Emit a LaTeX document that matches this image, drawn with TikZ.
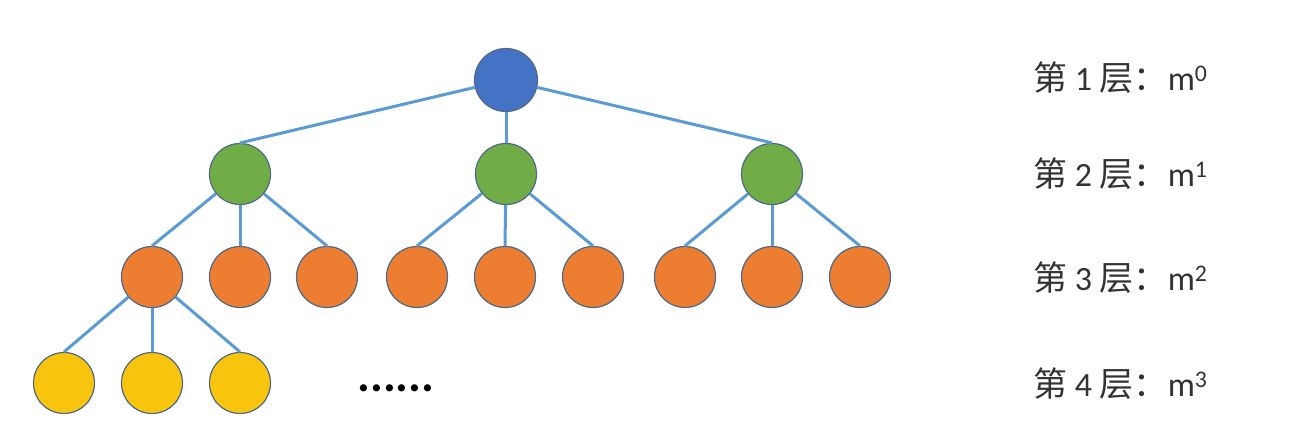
\documentclass[tikz,border=0pt]{standalone}
\usepackage{fontspec}
\setmainfont{Carlito}
\newfontfamily\cjk{Noto Sans CJK SC}
\definecolor{rootblue}{HTML}{4472C4}
\definecolor{lvgreen}{HTML}{70AD47}
\definecolor{lvorange}{HTML}{ED7D31}
\definecolor{lvyellow}{HTML}{F8C40C}
\definecolor{edgeblue}{HTML}{5B9BD5}
\definecolor{rimgray}{HTML}{4E6A86}
\begin{document}
\begin{tikzpicture}[
    x=1pt, y=-1pt,
    ball/.style={circle, draw=rimgray, line width=1.2pt, minimum size=61pt, inner sep=0pt},
    edge/.style={draw=edgeblue, line width=3pt},
    level/.style={anchor=west, inner sep=0pt, font=\fontsize{34}{40}\selectfont, text=black!80}
  ]
  \useasboundingbox (0,0) rectangle (1312,437);
  % level 1
  \node[ball, fill=rootblue, minimum size=63pt] (r) at (506,80) {};
  % level 2
  \node[ball, fill=lvgreen] (g1) at (240,174) {};
  \node[ball, fill=lvgreen] (g2) at (506,174) {};
  \node[ball, fill=lvgreen] (g3) at (772,174) {};
  % level 3
  \node[ball, fill=lvorange] (o1) at (152,277) {};
  \node[ball, fill=lvorange] (o2) at (240,277) {};
  \node[ball, fill=lvorange] (o3) at (327,277) {};
  \node[ball, fill=lvorange] (o4) at (417,277) {};
  \node[ball, fill=lvorange] (o5) at (505,277) {};
  \node[ball, fill=lvorange] (o6) at (593,277) {};
  \node[ball, fill=lvorange] (o7) at (685,277) {};
  \node[ball, fill=lvorange] (o8) at (772,277) {};
  \node[ball, fill=lvorange] (o9) at (860,277) {};
  % level 4
  \node[ball, fill=lvyellow] (y1) at (64,383) {};
  \node[ball, fill=lvyellow] (y2) at (152,383) {};
  \node[ball, fill=lvyellow] (y3) at (240,383) {};
  \node[inner sep=0pt, font=\bfseries\fontsize{48}{50}\selectfont] (dots) at (396,388) {......};
  % edges
  \draw[edge] (r) -- (g1.north);
  \draw[edge] (r) -- (g2.north);
  \draw[edge] (r) -- (g3.north);
  \draw[edge] (g1) -- (o1.north);
  \draw[edge] (g1) -- (o2.north);
  \draw[edge] (g1) -- (o3.north);
  \draw[edge] (g2) -- (o4.north);
  \draw[edge] (g2) -- (o5.north);
  \draw[edge] (g2) -- (o6.north);
  \draw[edge] (g3) -- (o7.north);
  \draw[edge] (g3) -- (o8.north);
  \draw[edge] (g3) -- (o9.north);
  \draw[edge] (o1) -- (y1.north);
  \draw[edge] (o1) -- (y2.north);
  \draw[edge] (o1) -- (y3.north);
  % labels
  \node[level] (l1) at (1033,78) {{\cjk 第} 1 {\cjk 层：}m\textsuperscript{0}};
  \node[level] (l2) at (1033,174) {{\cjk 第} 2 {\cjk 层：}m\textsuperscript{1}};
  \node[level] (l3) at (1033,278) {{\cjk 第} 3 {\cjk 层：}m\textsuperscript{2}};
  \node[level] (l4) at (1033,384) {{\cjk 第} 4 {\cjk 层：}m\textsuperscript{3}};
\end{tikzpicture}
\end{document}
